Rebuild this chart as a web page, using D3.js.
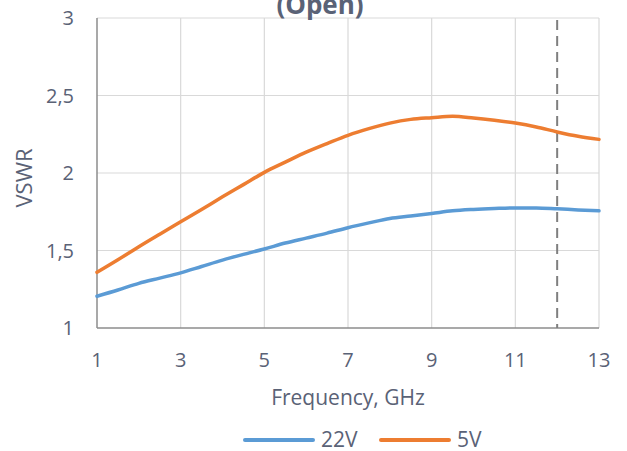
<html>
<head>
<script src="https://cdn.jsdelivr.net/npm/d3@7"></script>
<style>
  body { margin: 0; background: #fff; }
  text { font-family: "Open Sans", sans-serif; fill: #5a6276; }
</style>
</head>
<body>
<svg width="627" height="451"></svg>
<script>
var freq = [1, 1.5, 2, 2.5, 3, 3.5, 4, 4.5, 5, 5.5, 6, 6.5, 7, 7.5, 8, 8.5, 9, 9.5, 10, 10.5, 11, 11.5, 12, 12.5, 13];
var vswr22 = [1.205, 1.245, 1.288, 1.322, 1.356, 1.397, 1.438, 1.475, 1.51, 1.548, 1.58, 1.612, 1.647, 1.678, 1.707, 1.723, 1.739, 1.756, 1.765, 1.771, 1.775, 1.775, 1.769, 1.762, 1.756];
var vswr5 = [1.359, 1.44, 1.524, 1.605, 1.685, 1.765, 1.846, 1.925, 2.004, 2.07, 2.135, 2.19, 2.243, 2.286, 2.322, 2.346, 2.357, 2.366, 2.355, 2.34, 2.322, 2.297, 2.265, 2.237, 2.217];
var xTicks = [1, 3, 5, 7, 9, 11, 13];
var yTicks = [1, 1.5, 2, 2.5, 3];
var markerFreq = 12;
var seriesNames = ["22V", "5V"];
var seriesColors = ["#5b9bd5", "#ed7d31"];

var svg = d3.select("svg");
var plotLeft = 97, plotRight = 599, plotTop = 18, plotBottom = 328;

var x = d3.scaleLinear().domain([1, 13]).range([plotLeft, plotRight]);
var y = d3.scaleLinear().domain([1, 3]).range([plotBottom, plotTop]);
var fmt = function(d) { return String(d).replace(".", ","); };

// grid
svg.append("g").selectAll("line").data(yTicks.slice(1)).enter().append("line")
  .attr("x1", plotLeft).attr("x2", plotRight)
  .attr("y1", function(d) { return y(d); }).attr("y2", function(d) { return y(d); })
  .attr("stroke", "#d9d9d9").attr("stroke-width", 1.2);
svg.append("g").selectAll("line").data(xTicks.slice(1)).enter().append("line")
  .attr("x1", function(d) { return x(d); }).attr("x2", function(d) { return x(d); })
  .attr("y1", plotTop).attr("y2", plotBottom)
  .attr("stroke", "#d9d9d9").attr("stroke-width", 1.2);

// axis lines
svg.append("line").attr("x1", plotLeft).attr("x2", plotLeft).attr("y1", plotTop).attr("y2", plotBottom)
  .attr("stroke", "#8c8c8c").attr("stroke-width", 1.5);
svg.append("line").attr("x1", plotLeft).attr("x2", plotRight).attr("y1", plotBottom).attr("y2", plotBottom)
  .attr("stroke", "#8c8c8c").attr("stroke-width", 1.5);

// dashed marker
svg.append("line").attr("x1", x(markerFreq)).attr("x2", x(markerFreq)).attr("y1", plotTop + 2).attr("y2", plotBottom)
  .attr("stroke", "#7f7f7f").attr("stroke-width", 2).attr("stroke-dasharray", "10,6");

// tick labels
svg.append("g").selectAll("text").data(yTicks).enter().append("text")
  .attr("x", 74).attr("y", function(d) { return y(d) + 7; })
  .attr("text-anchor", "end").attr("font-size", 20).text(fmt);
svg.append("g").selectAll("text").data(xTicks).enter().append("text")
  .attr("x", function(d) { return x(d); }).attr("y", 367)
  .attr("text-anchor", "middle").attr("font-size", 20).text(function(d) { return d; });

// axis titles
svg.append("text").attr("x", 348).attr("y", 405).attr("text-anchor", "middle")
  .attr("font-size", 21).text("Frequency, GHz");
svg.append("text").attr("transform", "translate(32,178) rotate(-90)").attr("text-anchor", "middle")
  .attr("font-size", 22).text("VSWR");

// title (partly cut off at the top)
svg.append("text").attr("x", 320).attr("y", 14).attr("text-anchor", "middle")
  .attr("font-size", 26).attr("font-weight", "bold").text("(Open)");

// series
var line = d3.line()
  .x(function(d) { return x(d[0]); })
  .y(function(d) { return y(d[1]); })
  .curve(d3.curveMonotoneX);
[vswr22, vswr5].forEach(function(vals, i) {
  svg.append("path")
    .datum(freq.map(function(f, j) { return [f, vals[j]]; }))
    .attr("d", line)
    .attr("fill", "none")
    .attr("stroke", seriesColors[i])
    .attr("stroke-width", 3.5)
    .attr("stroke-linecap", "round");
});

// legend
var legendX = [245, 381];
seriesNames.forEach(function(name, i) {
  svg.append("line").attr("x1", legendX[i]).attr("x2", legendX[i] + 68)
    .attr("y1", 440).attr("y2", 440)
    .attr("stroke", seriesColors[i]).attr("stroke-width", 4).attr("stroke-linecap", "round");
  svg.append("text").attr("x", legendX[i] + 76).attr("y", 447)
    .attr("font-size", 21).text(name);
});
</script>
</body>
</html>
